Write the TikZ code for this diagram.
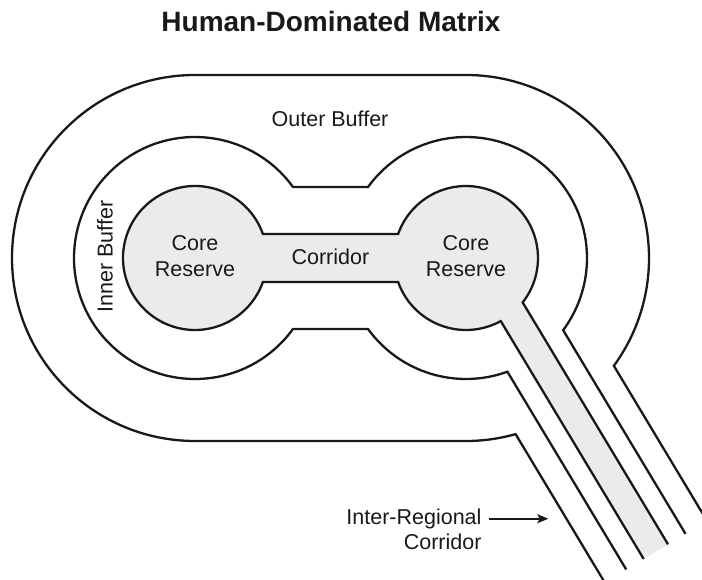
\documentclass[tikz,border=0pt]{standalone}
\usepackage{fontspec}
\setmainfont{Liberation Sans}
\usetikzlibrary{arrows.meta,positioning,calc}

\definecolor{corefill}{gray}{0.92}
\definecolor{inkline}{gray}{0.1}

\begin{document}
\begin{tikzpicture}[x=1pt,y=1pt,
    rim/.style={line width=2.3pt,draw=inkline},
    lbl/.style={inner sep=0pt,font=\fontsize{21.5}{26}\selectfont,text=inkline},
    pointer/.style={line width=2.2pt,draw=inkline,-{Stealth[length=11pt,width=9pt,inset=2.5pt]}}]
  \clip (0,0) rectangle (702,579); % 画像の範囲

  \coordinate (L) at (195,321); % 左のコア中心
  \coordinate (R) at (466,321); % 右のコア中心

  % 外側バッファ（楕円形のトラック型）。右下で回廊に分かれる
  \draw[rim] ($(R)+(31:71.2)+(-59:349.5)$) -- ($(R)+(-36.1:183)$)
    arc[start angle=-36.1,end angle=90,radius=183] -- ($(L)+(0,183)$)
    arc[start angle=90,end angle=270,radius=183] -- ($(R)+(0,-183)$)
    arc[start angle=270,end angle=285.73,radius=183]
    -- ($(R)+(31:-48.2)+(-59:349.5)$);

  % 内側バッファ（二つの円をくびれでつなぐ）
  \draw[rim] ($(R)+(31:46.1)+(-59:349.5)$) -- ($(R)+(-36.6:121)$)
    arc[start angle=-36.6,end angle=144.07,radius=121] -- ($(L)+(35.93:121)$)
    arc[start angle=35.93,end angle=324.07,radius=121] -- ($(R)+(215.93:121)$)
    arc[start angle=215.93,end angle=290,radius=121]
    -- ($(R)+(31:-23.1)+(-59:349.5)$);

  % コア保護区と回廊（灰色）。端の切り口は線を引かない
  \filldraw[rim,fill=corefill] ($(R)+(31:25.7)+(-59:349.5)$) -- ($(R)+(-38.09:72)$)
    arc[start angle=-38.09,end angle=160.53,radius=72] -- ($(L)+(19.47:72)$)
    arc[start angle=19.47,end angle=340.53,radius=72] -- ($(R)+(199.47:72)$)
    arc[start angle=199.47,end angle=298.85,radius=72]
    -- ($(R)+(31:-2.7)+(-59:349.5)$);

  \node[lbl,anchor=base,font=\fontsize{28}{33}\selectfont\bfseries] (title) at (331,547.3) {Human-Dominated Matrix};
  \node[lbl,anchor=base] (outerlbl) at (330,452) {Outer Buffer};
  \node[lbl,anchor=base,rotate=90] (innerlbl) at (112.7,322.3) {Inner Buffer};
  \node[lbl,align=center] (coreleft) at (195,323) {Core\\Reserve};
  \node[lbl,align=center] (coreright) at (466,323) {Core\\Reserve};
  \node[lbl,anchor=base] (corrlbl) at (330.4,314) {Corridor};

  % 地域間回廊の説明と矢印
  \node[lbl,anchor=base east] (irlabel) at (481.7,54.7) {Inter-Regional};
  \node[lbl,below left=4.8pt and 0pt of irlabel.south east] (irlabel2) {Corridor};
  \coordinate (irtip) at (548.3,60.7);
  \draw[pointer,shorten <=7.5pt] (irlabel.east) -- (irlabel.east -| irtip);
\end{tikzpicture}
\end{document}
